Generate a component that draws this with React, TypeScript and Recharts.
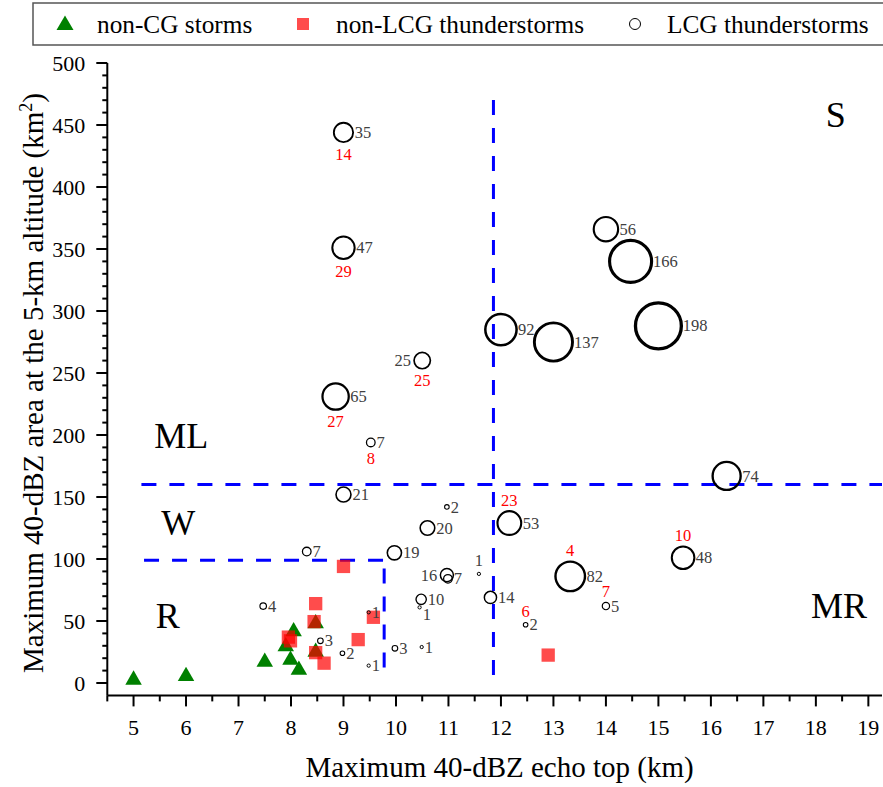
import { ScatterChart, Scatter, XAxis, YAxis, ZAxis, ReferenceLine } from 'recharts';

// non-CG storms (green triangles)
const nonCgEchoTop = [5.0, 6.0, 7.5, 7.99, 8.15, 7.9, 8.05, 8.47, 8.47];
const nonCgArea = [2.5, 5.5, 17, 18.5, 10.5, 29.5, 41.5, 48, 25];

// non-LCG thunderstorms (red squares)
const nonLcgEchoTop = [9.0, 8.47, 8.44, 7.95, 7.99, 9.28, 9.57, 8.47, 8.63, 12.9];
const nonLcgArea = [94, 64, 49.5, 37, 34, 35, 53, 24.5, 16, 22.5];

// LCG thunderstorms (open circles, size = count)
const lcgEchoTop = [
    9.0, 9.0, 10.5, 8.85, 9.52, 14.0, 14.47, 15.0, 13.0, 12.0, 16.3, 15.47,
    13.32, 14.0, 12.16, 12.47, 11.8, 11.58, 10.97, 10.99, 10.48, 10.45, 10.6,
    10.97, 9.97, 9.98, 10.49, 9.0, 8.3, 7.47, 8.56, 8.98, 9.48, 9.48,
];
const lcgArea = [
    444, 351, 260, 231, 194, 366, 340, 288, 275, 285, 167, 101,
    86, 62, 129, 47, 69, 88, 87, 84, 67.5, 61, 125,
    142, 105, 28, 29, 152, 106, 62, 34, 24, 57, 14,
];
const lcgCount = [
    35, 47, 25, 65, 7, 56, 166, 198, 137, 92, 74, 48,
    82, 5, 53, 2, 14, 1, 16, 7, 10, 1, 20,
    2, 19, 3, 1, 21, 7, 4, 3, 2, 1, 1,
];
const lcgRedCount: (number | null)[] = [
    14, 29, 25, 27, 8, null, null, null, null, null, null, 10,
    4, 7, 23, 6, null, null, null, null, null, null, null,
    null, null, null, null, null, null, null, null, null, null, null,
];

// label placement (styling only)
const redBelow = new Set([0, 1, 2, 3, 4]);
const countLeft = new Set([2, 18]);
const countTop = new Set([17]);
const countLow = new Set([21]);

const quadrantNames = ['S', 'ML', 'W', 'R', 'MR'];
const quadrantX = [18.38, 5.91, 5.85, 5.65, 18.44];
const quadrantY = [458, 199, 129, 54, 62];

const xMajorTicks = [5, 6, 7, 8, 9, 10, 11, 12, 13, 14, 15, 16, 17, 18, 19];
const yMajorTicks = [0, 50, 100, 150, 200, 250, 300, 350, 400, 450, 500];

const xTicks = [4.5, ...xMajorTicks.flatMap((t) => [t, t + 0.5])];
const yTicks = yMajorTicks.flatMap((t) => (t < 500 ? [t, t + 10, t + 20, t + 30, t + 40] : [t]));

const nonCgData = nonCgEchoTop.map((x, i) => ({ x, y: nonCgArea[i] }));
const nonLcgData = nonLcgEchoTop.map((x, i) => ({ x, y: nonLcgArea[i] }));
const lcgData = lcgEchoTop.map((x, i) => ({ x, y: lcgArea[i], n: lcgCount[i], red: lcgRedCount[i], idx: i }));
const quadrantData = quadrantNames.map((name, i) => ({ x: quadrantX[i], y: quadrantY[i], name }));

const FONT = '"Liberation Serif", "Times New Roman", serif';
const LABEL_FS = 16.5;

const W = 883;
const H = 787;
const M = { top: 63, right: 1, bottom: 31.6, left: 47.3 };
const X_AXIS_H = 60;
const Y_AXIS_W = 60;
const PLOT_BOTTOM = H - M.bottom - X_AXIS_H; // 695.4
const PLOT_LEFT = M.left + Y_AXIS_W; // 107.3

const XTick = ({ x, payload }: any) => {
    const major = Number.isInteger(payload.value);
    const y = PLOT_BOTTOM;
    return (
        <g>
            <line x1={x} x2={x} y1={y} y2={y + (major ? 11 : 6)} stroke="#000" strokeWidth={2} />
            {major && (
                <text x={x} y={y + 40} textAnchor="middle" fontSize={22} fontFamily={FONT} fill="#000">
                    {payload.value}
                </text>
            )}
        </g>
    );
};

const YTick = ({ y, payload }: any) => {
    const major = payload.value % 50 === 0;
    const x = PLOT_LEFT;
    return (
        <g>
            <line x1={x - (major ? 11 : 5)} x2={x} y1={y} y2={y} stroke="#000" strokeWidth={2} />
            {major && (
                <text x={x - 22} y={y + 7.5} textAnchor="end" fontSize={22} fontFamily={FONT} fill="#000">
                    {payload.value}
                </text>
            )}
        </g>
    );
};

const TriangleShape = ({ cx, cy }: any) => {
    const s = 16.5;
    const h = (s * Math.sqrt(3)) / 2;
    return (
        <polygon
            points={`${cx},${cy - (2 * h) / 3} ${cx - s / 2},${cy + h / 3} ${cx + s / 2},${cy + h / 3}`}
            fill="#008000"
        />
    );
};

const SquareShape = ({ cx, cy }: any) => {
    const s = 13.3;
    return <rect x={cx - s / 2} y={cy - s / 2} width={s} height={s} fill="#FF0000" fillOpacity={0.7} />;
};

const CircleShape = ({ cx, cy, width, payload }: any) => {
    const r = Math.max(width / 2, 1.4);
    const sw = 0.8 + r * 0.11;
    const i = payload.idx;
    const off = LABEL_FS * 0.34;
    let count;
    if (countLeft.has(i)) {
        count = <text x={cx - r - 3} y={cy + off} textAnchor="end">{payload.n}</text>;
    } else if (countTop.has(i)) {
        count = <text x={cx} y={cy - 13 + off} textAnchor="middle">{payload.n}</text>;
    } else {
        count = <text x={cx + r + 1.5} y={cy + off + (countLow.has(i) ? 7 : 0)} textAnchor="start">{payload.n}</text>;
    }
    return (
        <g fontFamily={FONT} fontSize={LABEL_FS}>
            <circle cx={cx} cy={cy} r={r} fill="none" stroke="#000" strokeWidth={sw} />
            <g fill="#404040">{count}</g>
            {payload.red != null && (
                <text
                    x={cx}
                    y={(redBelow.has(i) ? cy + r + 12 : cy - r - 11) + off}
                    textAnchor="middle"
                    fill="#FF0000"
                >
                    {payload.red}
                </text>
            )}
        </g>
    );
};

const QuadrantShape = ({ cx, cy, payload }: any) => (
    <text x={cx} y={cy + 36 * 0.33} textAnchor="middle" fontSize={36} fontFamily={FONT} fill="#000">
        {payload.name}
    </text>
);

const dash = { stroke: '#0000FF', strokeWidth: 3, strokeDasharray: '15 13', ifOverflow: 'visible' as const };

export default function App() {
    return (
        <div style={{ position: 'absolute', left: 0, top: 0, width: W, height: H, background: '#fff' }}>
            <ScatterChart width={W} height={H} margin={M}>
                <XAxis
                    type="number"
                    dataKey="x"
                    domain={[4.5, 19.26]}
                    allowDataOverflow
                    ticks={xTicks}
                    interval={0}
                    height={X_AXIS_H}
                    tickSize={0}
                    tickMargin={0}
                    tickLine={false}
                    tick={<XTick />}
                    axisLine={{ stroke: '#000', strokeWidth: 2 }}
                />
                <YAxis
                    type="number"
                    dataKey="y"
                    domain={[-10, 500]}
                    allowDataOverflow
                    ticks={yTicks}
                    interval={0}
                    width={Y_AXIS_W}
                    tickSize={0}
                    tickMargin={0}
                    tickLine={false}
                    tick={<YTick />}
                    axisLine={{ stroke: '#000', strokeWidth: 2 }}
                />
                <ZAxis type="number" dataKey="n" domain={[0, 200]} range={[0, 1670]} />
                <ReferenceLine segment={[{ x: 5.15, y: 160 }, { x: 19.26, y: 160 }]} {...dash} />
                <ReferenceLine segment={[{ x: 11.857, y: 6.5 }, { x: 11.857, y: 480 }]} {...dash} />
                <ReferenceLine segment={[{ x: 5.2, y: 99 }, { x: 9.775, y: 99 }]} {...dash} />
                <ReferenceLine segment={[{ x: 9.775, y: 12.5 }, { x: 9.775, y: 99 }]} {...dash} />
                <Scatter name="quadrants" data={quadrantData} shape={<QuadrantShape />} isAnimationActive={false} />
                <Scatter name="non-CG storms" data={nonCgData} shape={<TriangleShape />} isAnimationActive={false} />
                <Scatter name="non-LCG thunderstorms" data={nonLcgData} shape={<SquareShape />} isAnimationActive={false} />
                <Scatter name="LCG thunderstorms" data={lcgData} shape={<CircleShape />} isAnimationActive={false} />
            </ScatterChart>
            <svg
                width={W}
                height={H}
                style={{ position: 'absolute', left: 0, top: 0, pointerEvents: 'none' }}
                fontFamily={FONT}
            >
                <rect x={33} y={3} width={860} height={42} fill="none" stroke="#555" strokeWidth={1.5} />
                <polygon points="65,15.5 56.5,30 73.5,30" fill="#008000" />
                <text x={97} y={33} fontSize={25.3}>non-CG storms</text>
                <rect x={297} y={18} width={12} height={12} fill="#FF0000" fillOpacity={0.7} />
                <text x={336} y={33} fontSize={25.3}>non-LCG thunderstorms</text>
                <circle cx={635} cy={24} r={5.5} fill="none" stroke="#000" strokeWidth={1} />
                <text x={667} y={33} fontSize={25.3}>LCG thunderstorms</text>
                <text x={499.5} y={777} textAnchor="middle" fontSize={29}>
                    Maximum 40-dBZ echo top (km)
                </text>
                <text transform="translate(43, 383) rotate(-90)" textAnchor="middle" fontSize={29}>
                    Maximum 40-dBZ area at the 5-km altitude (km
                    <tspan dy={-11} fontSize={18}>2</tspan>
                    <tspan dy={11}>)</tspan>
                </text>
            </svg>
        </div>
    );
}
